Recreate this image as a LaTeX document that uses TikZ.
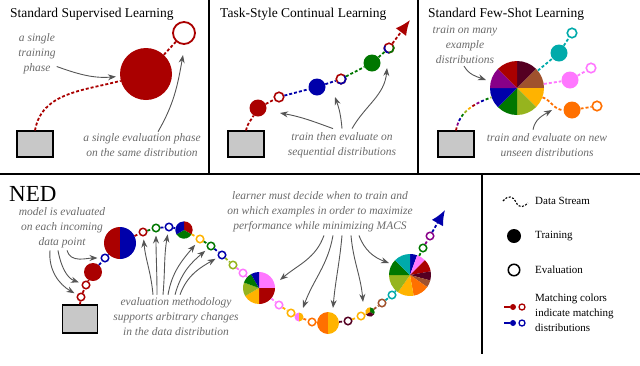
\documentclass[tikz,border=0pt]{standalone}
\usepackage{fontspec}
\setmainfont{Liberation Serif}
\usetikzlibrary{arrows.meta}
\definecolor{dred}{HTML}{AA0000}
\definecolor{dblue}{HTML}{0000AA}
\definecolor{dgreen}{HTML}{007700}
\definecolor{olive}{HTML}{96B41E}
\definecolor{gold}{HTML}{FFB300}
\definecolor{orange}{HTML}{FF7000}
\definecolor{pink}{HTML}{FF77FF}
\definecolor{teal}{HTML}{00AAAA}
\definecolor{maroon}{HTML}{550022}
\definecolor{brown}{HTML}{A0522D}
\definecolor{purple}{HTML}{880088}
\definecolor{boxgray}{HTML}{C8C8C8}
\definecolor{notegray}{HTML}{6A6A6A}
\definecolor{arrgray}{HTML}{555555}
\newcommand\ttlfont{\fontsize{13.5}{15}\selectfont}
\newcommand\ntfont{\fontsize{11.5}{15}\selectfont\itshape}
\newcommand\lgfont{\fontsize{11}{15}\selectfont}
\newcommand\drawpie[3]{\begin{scope}[shift={(#1)},yscale=-1]\foreach \s/\e/\c in {#3}{\fill[\c] (0,0) -- (\s:#2) arc[start angle=\s,end angle=\e,radius=#2] -- cycle;}\end{scope}}
\newcommand\evarc[5]{\begin{scope}[shift={(#1)},yscale=-1]\draw[#5,line width=1.6pt] (#3:#2) arc[start angle=#3,end angle=#4,radius=#2];\end{scope}}
\tikzset{
  sep/.style={line width=1.2pt},
  dbox/.style={draw=black, line width=1.2pt, fill=boxgray, minimum width=36pt, minimum height=26pt, inner sep=0},
  trc/.style={circle, fill=#1, inner sep=0, minimum size=17pt},
  evc/.style={circle, draw=#1, fill=white, line width=1.5pt, inner sep=0, minimum size=7.5pt},
  piec/.style={circle, inner sep=0, minimum size=#1},
  dstream/.style={draw=#1, line width=1.8pt, dash pattern=on 3pt off 2pt},
  annot/.style={font=\ntfont, text=notegray, align=center, inner sep=0},
  annarr/.style={draw=arrgray, line width=0.9pt, -{Stealth[length=8pt,width=6pt]}},
  ttl/.style={font=\ttlfont, anchor=west, inner sep=0},
  lgtext/.style={font=\lgfont, anchor=west, inner sep=0, align=left},
  bighead/.style={-{Latex[length=15pt,width=13pt]}},
}
\begin{document}
\begin{tikzpicture}[x=1pt,y=-1pt]
\useasboundingbox (0,0) rectangle (640,365);
% separators
\draw[sep] (0,174) -- (640,174);
\draw[sep] (209,0) -- (209,174);
\draw[sep] (418,0) -- (418,174);
\draw[sep] (482,174) -- (482,354);

%% ---------- Panel 1
\node[ttl] (h1) at (10,14) {Standard Supervised Learning};
\node[dbox] (b1) at (35,144) {};
\node[trc=dred, minimum size=52pt] (t1) at (146,74) {};
\node[evc=dred, line width=1.8pt, minimum size=22pt] (e1) at (184,33) {};
\draw[dstream=dred] (b1.north) to[out=80,in=195] (t1);
\draw[dstream=dred] (t1) -- (e1);
\node[annot] (n1a) at (37,53.5) {a single\\training\\phase};
\node[annot] (n1b) at (142,145.5) {a single evaluation phase\\on the same distribution};
\coordinate (a1b) at (183,55);
\draw[annarr, shorten >=4pt] ([yshift=-13pt,xshift=1pt]n1a.east) to[out=-20,in=185] (t1);
\draw[annarr] ([xshift=16pt,yshift=2pt]n1b.north) to[out=60,in=-100] (a1b);

%% ---------- Panel 2
\node[ttl] (h2) at (220,14) {Task-Style Continual Learning};
\node[dbox] (b2) at (246,144) {};
\node[trc=dred] (t2a) at (258,108) {};
\node[evc=dred, line width=1.6pt, minimum size=9.5pt] (e2a) at (279,97) {};
\node[trc=dblue] (t2b) at (317,87) {};
\node[evc=dred, line width=1.6pt, minimum size=9.5pt] (e2b) at (341,79) {};
\node[trc=dgreen] (t2c) at (372,63) {};
\node[evc=dred, line width=1.6pt, minimum size=9.5pt] (e2c) at (389,48) {};
\evarc{e2b}{4.75}{-135}{45}{dblue}
\evarc{e2c}{4.75}{150}{270}{dblue}
\evarc{e2c}{4.75}{-90}{30}{dgreen}
\coordinate (a2end) at (410,20);
\draw[dstream=dred] (b2.north) to[out=80,in=240] (t2a);
\draw[dstream=dred] (t2a) -- (e2a);
\draw[dstream=dblue] (e2a) -- (t2b);
\draw[dstream=dblue] (t2b) -- (e2b);
\draw[dstream=dgreen] (e2b) -- (t2c);
\draw[dstream=dgreen] (t2c) -- (e2c);
\draw[dstream=dred, bighead] (e2c) -- (a2end);
\node[annot] (n2) at (342,145.5) {train then evaluate on\\sequential distributions};
\coordinate (a2a) at (280,113);
\coordinate (a2b) at (335,97);
\coordinate (a2c) at (387,68);
\draw[annarr] ([xshift=-9pt,yshift=4pt]n2.north) to[out=160,in=-10] (a2a);
\draw[annarr] ([xshift=0pt,yshift=4pt]n2.north) to[out=95,in=-70] (a2b);
\draw[annarr] ([xshift=10pt,yshift=4pt]n2.north) to[out=60,in=-95] (a2c);

%% ---------- Panel 3
\node[ttl] (h3) at (428,14) {Standard Few-Shot Learning};
\node[dbox] (b3) at (456,144) {};
\node[piec=54pt] (p3) at (517,88) {};
\drawpie{p3}{27}{90/45/maroon, 45/0/brown, 0/-45/gold, -45/-90/olive, -90/-135/dgreen, -135/-180/dblue, 180/135/purple, 135/90/dred}
\foreach \c/\ph in {dred/0, purple/25, dblue/20, dgreen/15, olive/10, gold/5}
  {\draw[\c, line width=1.8pt, dash pattern=on 3pt off 27pt, dash phase=\ph pt] (b3.north) to[out=80,in=200] (p3);}
\node[trc=teal] (t3a) at (559,53) {};
\node[evc=teal, line width=1.6pt, minimum size=9.5pt] (e3a) at (572,33) {};
\node[trc=pink] (t3b) at (570,80) {};
\node[evc=pink, line width=1.6pt, minimum size=9.5pt] (e3b) at (591,68) {};
\node[trc=orange] (t3c) at (572,110) {};
\node[evc=orange, line width=1.6pt, minimum size=9.5pt] (e3c) at (597,106) {};
\draw[dstream=teal] (p3) -- (t3a);
\draw[dstream=teal] (t3a) -- (e3a);
\draw[dstream=pink] (p3) -- (t3b);
\draw[dstream=pink] (t3b) -- (e3b);
\draw[dstream=orange] (p3) to[out=-20,in=180] (t3c);
\draw[dstream=orange] (t3c) -- (e3c);
\node[annot] (n3a) at (465,45) {train on many\\example\\distributions};
\node[annot] (n3b) at (547,145.5) {train and evaluate on new\\unseen distributions};
\coordinate (a3a) at (486,80);
\coordinate (a3b) at (552,110);
\draw[annarr] ([xshift=-1pt,yshift=-2pt]n3a.south) to[out=-60,in=160] (a3a);
\draw[annarr] ([xshift=-14pt,yshift=4pt]n3b.north) to[out=80,in=210] (a3b);

%% ---------- NED panel
\node[font=\fontsize{23}{25}\selectfont, anchor=west, inner sep=0] (h4) at (9,194) {NED};
\node[dbox, minimum width=35pt, minimum height=28pt] (b4) at (80,319) {};
\node[evc=dred] (e4a) at (81,297) {};
\node[evc=dred] (e4b) at (86,285) {};
\node[trc=dred, minimum size=18pt] (t4a) at (93,272) {};
\node[evc=dblue] (e4c) at (105,258) {};
\node[piec=32pt] (p4a) at (120,243) {};
\drawpie{p4a}{16}{90/270/dred, -90/90/dblue}
\node[evc=dred] (e4d) at (143,232) {};
\node[evc=dgreen] (e4e) at (156,228) {};
\node[evc=dblue] (e4f) at (169,227) {};
\node[piec=17.4pt] (p4b) at (184,230) {};
\drawpie{p4b}{8.7}{90/-30/dred, -30/-150/dgreen, 210/90/dblue}
\node[evc=gold] (e4g) at (200,239) {};
\node[evc=dgreen] (e4h) at (211,246) {};
\node[evc=dblue] (e4i) at (222,255) {};
\node[evc=olive] (e4j) at (233,265) {};
\node[evc=pink] (e4k) at (243,273) {};
\node[piec=32pt] (p4c) at (259,288) {};
\drawpie{p4c}{16}{90/0/pink, 0/-90/dred, -90/-150/gold, 210/160/olive, 160/120/dgreen, 120/90/dblue}
\node[evc=pink] (e4l) at (279,305) {};
\node[evc=gold] (e4m) at (291,313) {};
\node[piec=9pt] (p4d) at (299,317) {};
\drawpie{p4d}{4.5}{90/270/pink, -90/90/gold}
\node[evc=orange] (e4n) at (312,322) {};
\node[piec=22pt] (p4e) at (328,323) {};
\drawpie{p4e}{11}{90/270/orange, -90/90/gold}
\node[evc=maroon] (e4o) at (348,321) {};
\node[evc=gold] (e4p) at (361,316) {};
\node[piec=9.4pt] (p4f) at (370,312) {};
\drawpie{p4f}{4.7}{90/-30/dgreen, -30/-150/maroon, 210/90/gold}
\node[evc=brown] (e4q) at (382,303) {};
\node[evc=teal] (e4r) at (392,295) {};
\node[piec=42pt] (p4g) at (410,275) {};
\drawpie{p4g}{21}{90/70/dblue, 70/45/pink, 45/10/dred, 10/-15/maroon, -15/-35/brown, -35/-80/orange, -80/-125/gold, -125/-180/olive, 180/135/dgreen, 135/90/teal}
\node[evc=dgreen] (e4s) at (423,248) {};
\node[evc=purple] (e4t) at (430,236) {};
\coordinate (a4end) at (445,210);
\foreach \a/\b/\c in {b4.north/e4a/dred, e4a/e4b/dred, e4b/t4a/dred, t4a/e4c/dblue, e4c/p4a/dblue, p4a/e4d/dred, e4d/e4e/dgreen, e4e/e4f/dblue, e4f/p4b/dblue, p4b/e4g/gold, e4g/e4h/dgreen, e4h/e4i/dblue, e4i/e4j/olive, e4j/e4k/pink, e4k/p4c/pink, p4c/e4l/pink, e4l/e4m/gold, e4m/p4d/gold, p4d/e4n/orange, e4n/p4e/orange, p4e/e4o/maroon, e4o/e4p/gold, e4p/p4f/gold, p4f/e4q/brown, e4q/e4r/teal, e4r/p4g/teal, p4g/e4s/dgreen, e4s/e4t/purple}
  {\draw[dstream=\c] (\a) -- (\b);}
\draw[dstream=dblue, bighead] (e4t) -- (a4end);

\node[annot] (n4a) at (62,228) {model is evaluated\\on each incoming\\data point};
\draw[annarr, shorten >=3pt] ([xshift=-12pt,yshift=-2pt]n4a.south) to[out=-95,in=150] (e4a);
\draw[annarr, shorten >=3pt] ([xshift=-4pt,yshift=-2pt]n4a.south) to[out=-80,in=160] (e4b);
\draw[annarr, shorten >=3pt] ([xshift=5pt,yshift=-2pt]n4a.south) to[out=-75,in=180] (e4c);

\node[annot] (n4b) at (176,317) {evaluation methodology\\supports arbitrary changes\\in the data distribution};
\draw[annarr, shorten >=3pt] ([xshift=-23pt,yshift=3pt]n4b.north) to[out=95,in=-85] (e4d);
\draw[annarr, shorten >=3pt] ([xshift=-19pt,yshift=3pt]n4b.north) to[out=90,in=-90] (e4e);
\draw[annarr, shorten >=3pt] ([xshift=-13pt,yshift=3pt]n4b.north) to[out=85,in=-100] (e4f);
\draw[annarr, shorten >=3pt] ([xshift=-8pt,yshift=3pt]n4b.north) to[out=80,in=-130] (e4g);
\draw[annarr, shorten >=3pt] ([xshift=-1pt,yshift=3pt]n4b.north) to[out=75,in=-140] (e4h);
\draw[annarr, shorten >=3pt] ([xshift=4pt,yshift=3pt]n4b.north) to[out=70,in=-150] (e4i);

\node[annot] (n4c) at (320,212) {learner must decide when to train and\\on which examples in order to maximize\\performance while minimizing MACS};
\coordinate (a4c1) at (280,280);
\coordinate (a4c2) at (303,308);
\coordinate (a4c3) at (333,308);
\coordinate (a4c4) at (363,302);
\coordinate (a4c5) at (389,263);
\draw[annarr] ([xshift=4pt,yshift=-3pt]n4c.south) to[out=-110,in=40] (a4c1);
\draw[annarr] ([xshift=13pt,yshift=-3pt]n4c.south) to[out=-100,in=70] (a4c2);
\draw[annarr] ([xshift=22pt,yshift=-3pt]n4c.south) to[out=-95,in=85] (a4c3);
\draw[annarr] ([xshift=31pt,yshift=-3pt]n4c.south) to[out=-85,in=95] (a4c4);
\draw[annarr] ([xshift=39pt,yshift=-3pt]n4c.south) to[out=-70,in=160] (a4c5);

%% ---------- Legend
\coordinate (lg0) at (503,201);
\coordinate (lg1) at (528,203);
\draw[line width=1.1pt, dash pattern=on 2pt off 1.5pt] (lg0) .. controls (508,195) and (513,196) .. (516,202) .. controls (519,209) and (524,207) .. (lg1);
\node[lgtext] (l1) at (535,201) {Data Stream};
\node[circle, fill=black, inner sep=0, minimum size=14pt] (l2c) at (514,236) {};
\node[lgtext] (l2) at (535,236) {Training};
\node[circle, draw=black, line width=1.5pt, inner sep=0, minimum size=11.5pt] (l3c) at (514,270) {};
\node[lgtext] (l3) at (535,270) {Evaluation};
\coordinate (lr0) at (504,307);
\node[circle, fill=dred, inner sep=0, minimum size=6pt] (lr1) at (513,307) {};
\node[circle, draw=dred, line width=1.3pt, inner sep=0, minimum size=6pt] (lr2) at (522,307) {};
\draw[dred, line width=1.3pt] (lr0) -- (lr1);
\coordinate (lb0) at (504,323);
\node[circle, fill=dblue, inner sep=0, minimum size=6pt] (lb1) at (513,323) {};
\node[circle, draw=dblue, line width=1.3pt, inner sep=0, minimum size=6pt] (lb2) at (522,323) {};
\draw[dblue, line width=1.3pt] (lb0) -- (lb1);
\node[lgtext] (l4) at (535,313) {Matching colors\\indicate matching\\distributions};
\end{tikzpicture}
\end{document}
